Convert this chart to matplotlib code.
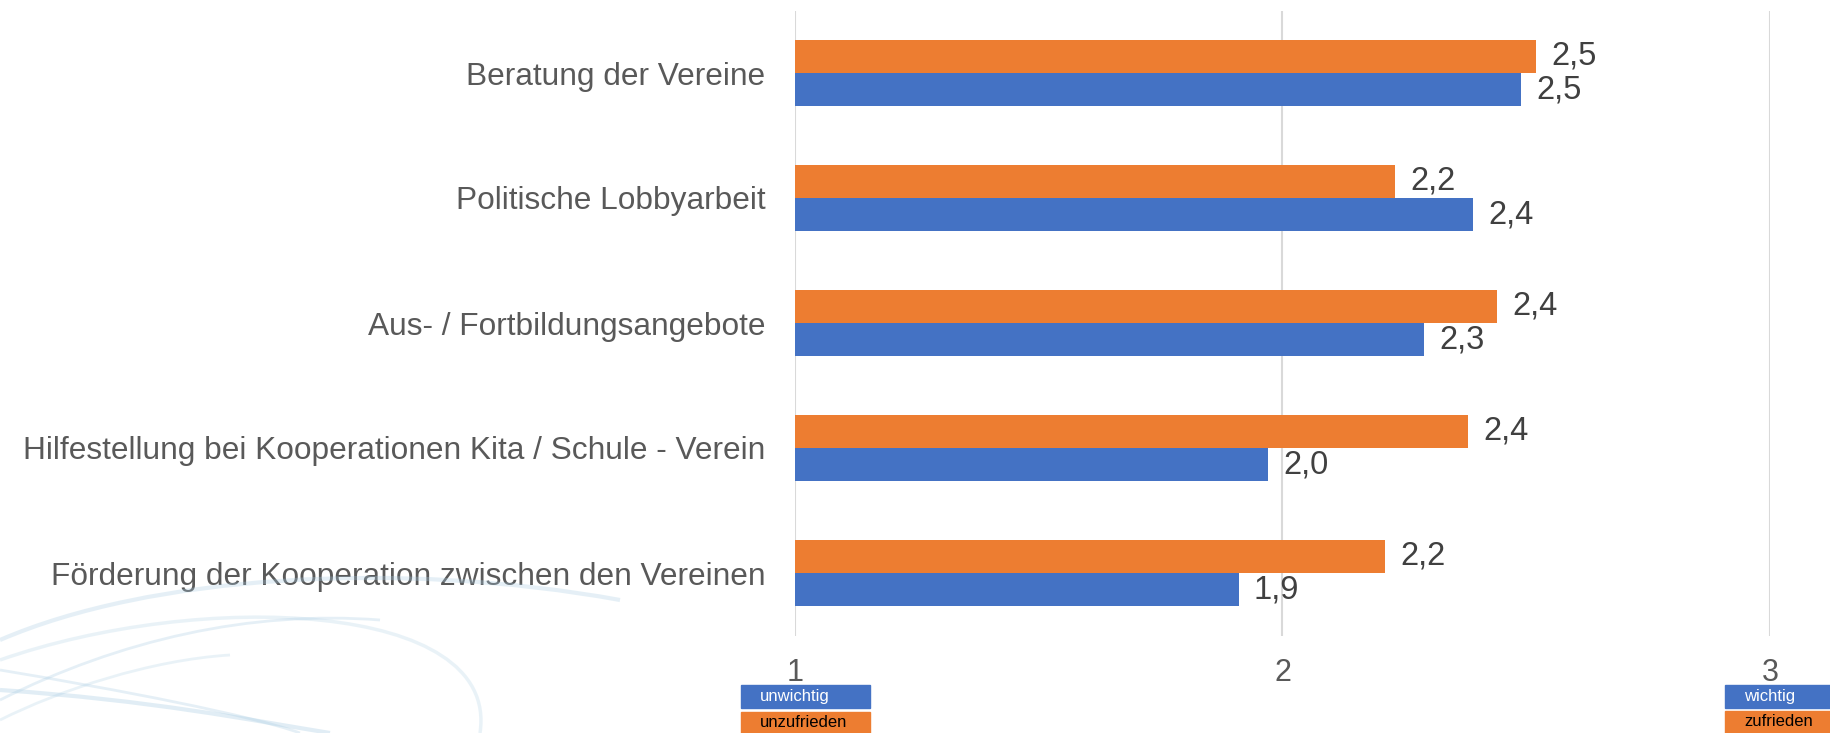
import numpy as np
import matplotlib
matplotlib.use('Agg')
import matplotlib.pyplot as plt
from matplotlib.patches import Rectangle, PathPatch
from matplotlib.path import Path

plt.rcParams['font.family'] = ['Liberation Sans', 'DejaVu Sans']

# data (top to bottom as shown)
categories = ['Beratung der Vereine',
              'Politische Lobbyarbeit',
              'Aus- / Fortbildungsangebote',
              'Hilfestellung bei Kooperationen Kita / Schule - Verein',
              'Förderung der Kooperation zwischen den Vereinen']
zufriedenheit = [2.52, 2.23, 2.44, 2.38, 2.21]   # orange
wichtigkeit = [2.49, 2.39, 2.29, 1.97, 1.91]     # blue
x_ticks = [1, 2, 3]

orange = '#ED7D31'
blue = '#4472C4'

W, H = 1831, 733
fig = plt.figure(figsize=(W / 100, H / 100), dpi=100)


def fx(px):
    return px / W


def fy(py):
    return 1 - py / H


# faint swoosh decoration in the lower left corner
def swoosh(pts, lw, alpha):
    verts = [(fx(x), fy(y)) for x, y in pts]
    codes = [Path.MOVETO] + [Path.CURVE4] * (len(verts) - 1)
    p = PathPatch(Path(verts, codes), transform=fig.transFigure, fill=False,
                  edgecolor='#a9cde3', lw=lw, alpha=alpha, zorder=0)
    fig.patches.append(p)


swoosh([(0, 640), (150, 575), (400, 560), (620, 600)], 3, 0.3)
swoosh([(0, 700), (120, 640), (250, 610), (380, 620)], 2, 0.3)
swoosh([(0, 660), (200, 590), (500, 600), (480, 733)], 2.5, 0.25)
swoosh([(0, 690), (150, 700), (250, 720), (330, 733)], 3, 0.35)
swoosh([(0, 670), (120, 690), (250, 715), (300, 733)], 2, 0.3)
swoosh([(0, 720), (60, 690), (150, 660), (230, 655)], 2, 0.25)

ax = fig.add_axes([fx(795), fy(635.5), fx(975), 625 / H])
ax.set_facecolor('none')

n = len(categories)
y = np.arange(n)[::-1]
h = 0.265
bars_o = ax.barh(y + h / 2, zufriedenheit, height=h, color=orange, zorder=2)
bars_b = ax.barh(y - h / 2, wichtigkeit, height=h, color=blue, zorder=2)

fmt = lambda v: ('%.1f' % v).replace('.', ',')
ax.bar_label(bars_o, fmt=fmt, padding=11, fontsize=23.5, color='#404040')
ax.bar_label(bars_b, fmt=fmt, padding=11, fontsize=23.5, color='#404040')

ax.set_xlim(1, 3)
ax.set_ylim(-0.5, n - 0.5)
ax.set_xticks(x_ticks)
ax.set_xticklabels([str(t) for t in x_ticks])
ax.set_yticks(y)
ax.set_yticklabels(categories)
ax.tick_params(axis='x', length=0, pad=16, labelsize=22, labelcolor='#595959')
ax.tick_params(axis='y', length=0, pad=21.5, labelsize=22.8, labelcolor='#595959')
for s in ax.spines.values():
    s.set_visible(False)
ax.grid(axis='x', color='#d9d9d9', lw=1.5, zorder=0)

# legend-like boxes under the axis ends
boxes = [(741, 870, 685, 708, blue, 'unwichtig', 'white'),
         (741, 870, 712, 733, orange, 'unzufrieden', 'black'),
         (1725, 1831, 685, 708, blue, 'wichtig', 'white'),
         (1725, 1831, 711, 733, orange, 'zufrieden', 'black')]
for x0, x1, y0, y1, c, txt, tc in boxes:
    fig.patches.append(Rectangle((fx(x0), fy(y1)), fx(x1 - x0), (y1 - y0) / H,
                                 transform=fig.transFigure, color=c, zorder=1))
    fig.text(fx(x0 + 19), fy((y0 + y1) / 2), txt, color=tc, fontsize=12,
             ha='left', va='center')

fig.savefig('out.png', dpi=100)
